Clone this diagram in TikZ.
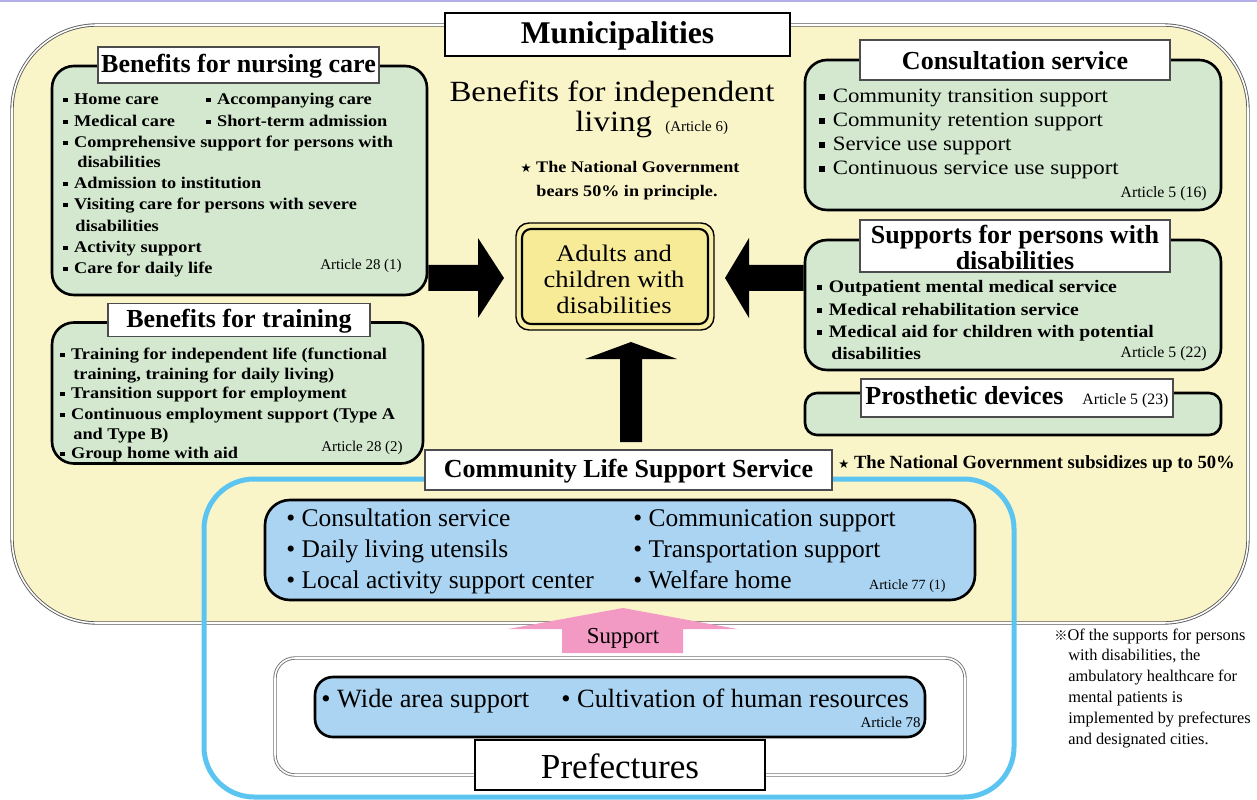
\documentclass[tikz,border=0pt]{standalone}
\usepackage{fontspec}
\setmainfont{Liberation Serif}
\newfontfamily\cent[FakeStretch=1.12]{Liberation Serif}
\newfontfamily\dvs{DejaVu Sans}
\newfontfamily\cjkf{Noto Sans CJK JP}
\newdimen\pu \pu=0.02cm
\definecolor{ybg}{HTML}{FAF5C9}
\definecolor{gbg}{HTML}{D3E8CF}
\definecolor{adout}{HTML}{F8EEA6}
\definecolor{adin}{HTML}{F7EB98}
\definecolor{bbg}{HTML}{AAD4F2}
\definecolor{bframe}{HTML}{5CC4F0}
\definecolor{pinkc}{HTML}{F29AC3}
\definecolor{topline}{HTML}{B4AEE6}
\newcommand\sqb{\raisebox{0.12em}{\rule{0.26em}{0.26em}}\hspace{0.4em}}
\newcommand\stt{{\dvs\fontsize{7}{8}\selectfont ★}}
\begin{document}
\begin{tikzpicture}[x=0.02cm,y=-0.02cm,
  muni/.style={draw=black!65, double=white, double distance=0.9pt, line width=0.5pt, fill=ybg, rounded corners=85\pu, inner sep=0},
  gbox/.style={draw=black, line width=1.5pt, fill=gbg, rounded corners=22\pu, inner sep=0},
  tbox/.style={draw=black!70, line width=0.7pt, fill=white, inner sep=0},
  hbox/.style={draw=black, line width=1.6pt, fill=white, inner sep=0},
  bbox/.style={draw=black, line width=1.5pt, fill=bbg, rounded corners=25\pu, inner sep=0},
  ttl/.style={font=\bfseries\fontsize{14.8}{14.8}\selectfont, inner sep=0, align=center},
  itb/.style={anchor=mid west, inner sep=0, font=\cent\bfseries\fontsize{9.3}{11}\selectfont},
  itc/.style={anchor=mid west, inner sep=0, font=\cent\fontsize{11.6}{13}\selectfont},
  its/.style={anchor=mid west, inner sep=0, font=\cent\bfseries\fontsize{10}{12}\selectfont},
  art/.style={anchor=mid east, inner sep=0, font=\fontsize{8.5}{10}\selectfont},
  itl/.style={anchor=mid west, inner sep=0, font=\fontsize{14.5}{16}\selectfont},
  note/.style={anchor=mid west, inner sep=0, font=\fontsize{9.3}{11}\selectfont},
  blk/.style={fill=black}
]
\useasboundingbox (0,0) rectangle (1257,800);
\draw[topline, line width=2\pu] (0,1) -- (1257,1);

% Municipalities frame
\node[muni, minimum width=1236\pu, minimum height=598\pu] (muni) at (630,324) {};

% left green boxes
\node[gbox, minimum width=375\pu, minimum height=229\pu] (nurse) at (239.5,180.5) {};
\node[tbox, minimum width=281\pu, minimum height=36\pu] (nurset) at (238.5,65) {};
\node[ttl] (nursett) at (238.5,66) {Benefits for nursing care};
\node[gbox, minimum width=371\pu, minimum height=141\pu] (train) at (237.5,393) {};
\node[tbox, minimum width=262\pu, minimum height=33\pu] (traint) at (239,320) {};
\node[ttl] (traintt) at (239,321) {Benefits for training};

% right green boxes
\node[gbox, minimum width=416\pu, minimum height=150\pu] (cons) at (1013,135) {};
\node[tbox, minimum width=310\pu, minimum height=40\pu] (const) at (1015,60) {};
\node[ttl] (constt) at (1015,61) {Consultation service};
\node[gbox, minimum width=416\pu, minimum height=130\pu] (supp) at (1013,305) {};
\node[tbox, minimum width=310\pu, minimum height=52\pu] (suppt) at (1015,246) {};
\node[ttl] (supptt) at (1015,247) {Supports for persons with\\disabilities};
\node[gbox, rounded corners=12\pu, minimum width=416\pu, minimum height=42\pu] (pros) at (1013,414) {};
\node[tbox, minimum width=312\pu, minimum height=38\pu] (prost) at (1017,398) {};
\node[ttl, anchor=mid west] (prostt) at (865,400) {Prosthetic devices};
\node[anchor=mid west, inner sep=0, font=\fontsize{9}{10}\selectfont] (prosa) at (1082,400) {Article 5 (23)};

% centre
\node[draw=black, line width=0.8pt, fill=adout, rounded corners=13\pu, minimum width=198\pu, minimum height=107\pu, inner sep=0] (adulto) at (615,276.5) {};
\node[draw=black, line width=1.2pt, fill=adin, rounded corners=9\pu, minimum width=186\pu, minimum height=95\pu, inner sep=0] (adulti) at (615,276.5) {};
\node[align=center, inner sep=0, font=\cent\fontsize{13.5}{14.8}\selectfont] (adults) at (614,279) {Adults and\\children with\\disabilities};

\node[anchor=base, inner sep=0, font=\cent\fontsize{16.7}{18}\selectfont] (bil1) at (612,102) {Benefits for independent};
\node[anchor=base west, inner sep=0, font=\cent\fontsize{16.7}{18}\selectfont] (bil2) at (575,132) {living};
\node[anchor=base west, inner sep=0, font=\fontsize{8.5}{10}\selectfont] (bil3) at (665,132) {(Article 6)};
\node[anchor=base, inner sep=0, font=\cent\bfseries\fontsize{9.2}{11}\selectfont] (st1) at (630,173) {\stt\ The National Government};
\node[anchor=base, inner sep=0, font=\cent\bfseries\fontsize{9.2}{11}\selectfont] (st2) at (627,197) {bears 50\% in principle.};

% black arrows
\fill[blk] (nurse.east |- 0,265) -- (478,265) -- (478,238) -- (504,278) -- (478,318) -- (478,291) -- (nurse.east |- 0,291) -- cycle;
\fill[blk] (supp.west |- 0,265) -- (749,265) -- (749,238) -- (725,278) -- (749,318) -- (749,291) -- (supp.west |- 0,291) -- cycle;
\fill[blk] (620,442) -- (620,359) -- (585,359) -- (631,342) -- (677,359) -- (642,359) -- (642,442) -- cycle;

% community life support service
\node[draw=bframe, line width=5\pu, rounded corners=50\pu, minimum width=810\pu, minimum height=318\pu, inner sep=0] (blueframe) at (609,638) {};
\node[bbox, minimum width=710\pu, minimum height=100\pu] (comm) at (620,550) {};
\node[tbox, minimum width=407\pu, minimum height=40\pu] (commt) at (628.5,470) {};
\node[ttl] (commtt) at (628.5,471) {Community Life Support Service};
\node[anchor=mid west, inner sep=0, font=\bfseries\fontsize{10.6}{12}\selectfont] (st3) at (838,464) {\stt\ The National Government subsidizes up to 50\%};

\node[itl] (c1) at (286,522) {• Consultation service};
\node[itl] (c2) at (286,553) {• Daily living utensils};
\node[itl] (c3) at (286,584) {• Local activity support center};
\node[itl] (c4) at (633,522) {• Communication support};
\node[itl] (c5) at (633,553) {• Transportation support};
\node[itl] (c6) at (633,584) {• Welfare home};
\node[art, font=\fontsize{8}{9}\selectfont] (c7) at (946,585) {Article 77 (1)};

% pink support arrow
\fill[pinkc] (562,653) -- (562,629) -- (508,629) -- (623,608) -- (737,629) -- (683,629) -- (683,653) -- cycle;
\node[inner sep=0, font=\fontsize{13}{14}\selectfont] (suptxt) at (623,638) {Support};

% prefectures
\node[draw=black!55, double=white, double distance=0.9pt, line width=0.5pt, fill=white, rounded corners=20\pu, minimum width=690\pu, minimum height=117\pu, inner sep=0] (pref) at (620,716.5) {};
\node[bbox, rounded corners=18\pu, minimum width=610\pu, minimum height=60\pu] (prefb) at (620,707) {};
\node[itl, font=\fontsize{15}{16}\selectfont] (p1) at (321,703) {• Wide area support};
\node[itl, font=\fontsize{15}{16}\selectfont] (p2) at (561,703) {• Cultivation of human resources};
\node[art, font=\fontsize{8.5}{9}\selectfont] (p3) at (921,723) {Article 78};
\node[hbox, minimum width=290\pu, minimum height=50\pu] (preft) at (620,765) {};
\node[inner sep=0, font=\fontsize{20}{22}\selectfont] (preftt) at (620,766) {Prefectures};

% municipalities title
\node[hbox, minimum width=345\pu, minimum height=43\pu] (munit) at (617.5,34.5) {};
\node[inner sep=0, font=\bfseries\fontsize{18}{20}\selectfont] (munitt) at (617.5,35.5) {Municipalities};

% nursing items
\node[itb] (n1) at (63,100) {\sqb Home care};
\node[itb] (n2) at (206,100) {\sqb Accompanying care};
\node[itb] (n3) at (63,122) {\sqb Medical care};
\node[itb] (n4) at (206,122) {\sqb Short-term admission};
\node[itb] (n5) at (63,143) {\sqb Comprehensive support for persons with};
\node[itb] (n6) at (77,163) {disabilities};
\node[itb] (n7) at (63,184) {\sqb Admission to institution};
\node[itb] (n8) at (63,205) {\sqb Visiting care for persons with severe};
\node[itb] (n9) at (75,227) {disabilities};
\node[itb] (n10) at (63,248) {\sqb Activity support};
\node[itb] (n11) at (63,269) {\sqb Care for daily life};
\node[art] (n12) at (402,265) {Article 28 (1)};

% training items
\node[itb] (r1) at (60,355) {\sqb Training for independent life (functional};
\node[itb] (r2) at (73,375) {training, training for daily living)};
\node[itb] (r3) at (60,394) {\sqb Transition support for employment};
\node[itb] (r4) at (60,415) {\sqb Continuous employment support (Type A};
\node[itb] (r5) at (73,435) {and Type B)};
\node[itb] (r6) at (60,454) {\sqb Group home with aid};
\node[art] (r7) at (403,447) {Article 28 (2)};

% consultation items
\node[itc] (k1) at (819,98) {\sqb Community transition support};
\node[itc] (k2) at (819,122) {\sqb Community retention support};
\node[itc] (k3) at (819,146) {\sqb Service use support};
\node[itc] (k4) at (819,170) {\sqb Continuous service use support};
\node[art, font=\fontsize{9}{10}\selectfont] (k5) at (1207,193) {Article 5 (16)};

% supports items
\node[its] (s1) at (817,288) {\sqb Outpatient mental medical service};
\node[its] (s2) at (817,311) {\sqb Medical rehabilitation service};
\node[its] (s3) at (817,333) {\sqb Medical aid for children with potential};
\node[its] (s4) at (831,355) {disabilities};
\node[art, font=\fontsize{9}{10}\selectfont] (s5) at (1207,353) {Article 5 (22)};

% note
\node[note] (m1) at (1054,636) {{\cjkf\fontsize{7.5}{9}\selectfont ※}Of the supports for persons};
\node[note] (m2) at (1068,656) {with disabilities, the};
\node[note] (m3) at (1068,677) {ambulatory healthcare for};
\node[note] (m4) at (1068,698) {mental patients is};
\node[note] (m5) at (1068,719) {implemented by prefectures};
\node[note] (m6) at (1068,740) {and designated cities.};
\end{tikzpicture}
\end{document}
